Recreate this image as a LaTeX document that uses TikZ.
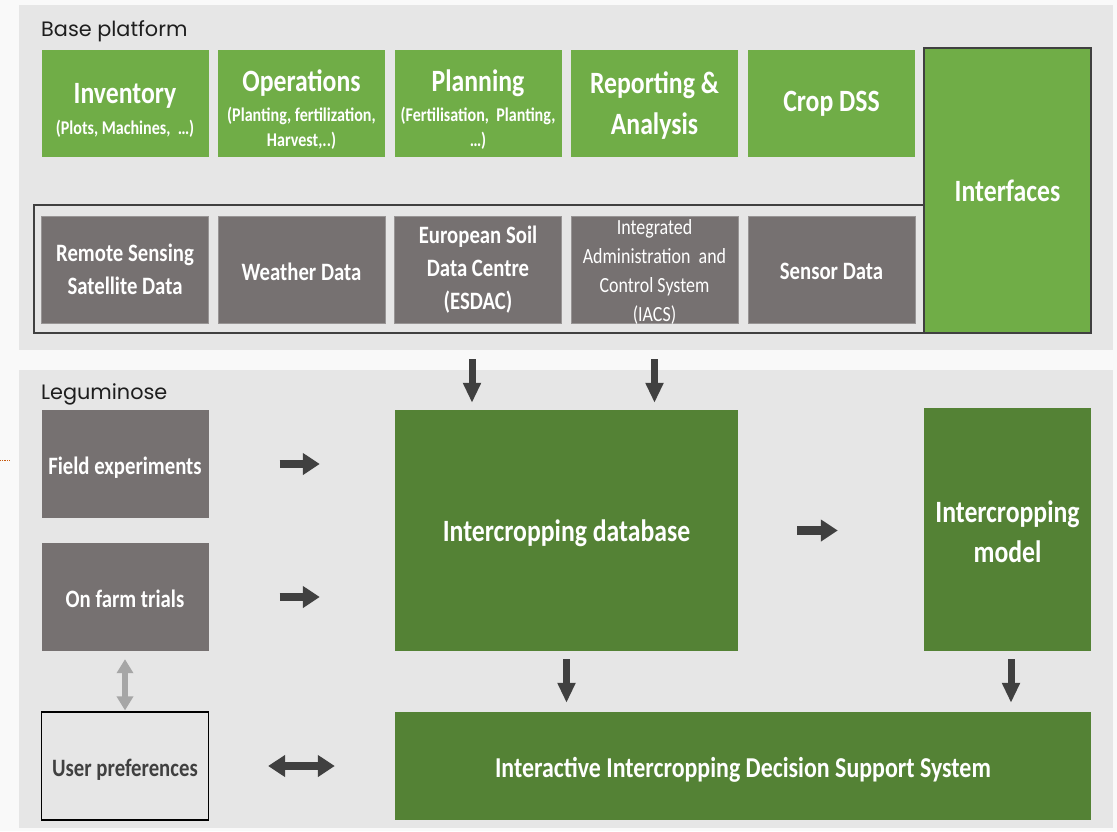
\documentclass[tikz,border=0pt]{standalone}
\usepackage{fontspec}
% narrow, tall letters: the sizes below are 1.2 times the nominal size
\setmainfont{Carlito}[FakeStretch=0.83]
\newfontfamily\gothicfont{Poppins}
\usetikzlibrary{arrows.meta,calc}

\definecolor{pagebg}{HTML}{F9F9F9}
\definecolor{panelbg}{HTML}{E6E6E6}
\definecolor{leafgreen}{HTML}{70AD47}
\definecolor{deepgreen}{HTML}{548235}
\definecolor{stone}{HTML}{767171}
\definecolor{ink}{HTML}{404040}
\definecolor{mist}{HTML}{A6A6A6}
\definecolor{rust}{HTML}{C55A11}
\definecolor{heading}{HTML}{1E1E1E}

% big title line inside a module box, with a tall strut that pushes the text down a little
\newcommand\modtitle[1]{{\fontsize{31}{34}\selectfont\rule{0pt}{33pt}#1}}
% lower one line of text a little without changing its box
\newcommand\lowered[2][4pt]{\raisebox{-#1}[\height][\depth]{#2}}

\tikzset{
  panel/.style={fill=panelbg, inner sep=0pt},
  paneltitle/.style={anchor=west, inner sep=0pt, text=heading,
    font=\gothicfont\fontsize{20.8}{24}\selectfont},
  box/.style={minimum width=167pt, minimum height=107pt, inner sep=0pt,
    align=center, text=white},
  modbox/.style={box, fill=leafgreen, font=\bfseries\fontsize{19.4}{25}\selectfont},
  bigmod/.style={box, fill=leafgreen, font=\bfseries\fontsize{31}{41}\selectfont},
  databox/.style={box, fill=stone, draw=stone!75!white, line width=0.6pt,
    font=\bfseries\fontsize{25}{33}\selectfont},
  sourcebox/.style={box, minimum height=108pt, fill=stone,
    font=\bfseries\fontsize{25}{33}\selectfont},
  corebox/.style={box, fill=deepgreen, font=\bfseries\fontsize{31}{40}\selectfont},
  % horizontal and vertical block arrows
  rightarrow/.style={draw=ink, line width=8.5pt, -{Triangle[length=17pt,width=21pt]}},
  downarrow/.style={draw=ink, line width=7pt, -{Triangle[length=20pt,width=17pt]}},
  twoway/.style={draw=ink, line width=8.5pt,
    {Triangle[length=17pt,width=21pt]}-{Triangle[length=17pt,width=21pt]}},
  softarrow/.style={draw=mist, line width=6pt,
    {Triangle[length=14pt,width=16pt]}-{Triangle[length=14pt,width=16pt]}},
}

\begin{document}
\begin{tikzpicture}[x=1pt,y=-1pt]
  % page
  \fill[pagebg] (0,0) rectangle (1117,831);
  \path[use as bounding box] (0,0) rectangle (1117,831);

  % the two panels
  \node[panel, minimum width=1094pt, minimum height=345pt] (baseplatform) at (566,177.5) {};
  \node[panel, minimum width=1094pt, minimum height=458pt] (leguminose) at (566,599) {};
  \node[paneltitle] (basetitle) at (41,31) {Base platform};
  \node[paneltitle] (legtitle) at (41,394) {Leguminose};

  % small dotted mark at the left margin
  \coordinate (markA) at (0,460);
  \coordinate (markB) at (10,460);
  \draw[rust, densely dotted, line width=0.8pt] (markA) -- (markB);

  % base platform modules
  \node[modbox] (inv)  at (125,103.5)  {\modtitle{Inventory}\\[6pt](Plots, Machines,\ \ …)};
  \node[modbox] (ops)  at (301.5,103.5) {\modtitle{Operations}\\[5pt](Planting, fertilization,\\Harvest,..)};
  \node[modbox] (plan) at (478,103.5)  {\modtitle{Planning}\\[5pt](Fertilisation,\ \ Planting,\\…)};
  \node[bigmod] (rep)  at (654.5,103.5) {\lowered[2pt]{Reporting \&}\\\lowered[2pt]{Analysis}};
  \node[bigmod] (dss)  at (831.5,103.5) {Crop DSS};

  % frame round the data sources, and the interfaces column
  \node[draw=ink, line width=1.2pt, minimum width=890pt, minimum height=128pt,
        inner sep=0pt] (datagroup) at (479,269) {};
  \node[bigmod, draw=ink, line width=1.2pt, minimum height=285pt] (ifc)
        at (1007.5,190.5) {Interfaces};

  % data sources
  \node[databox] (rs)    at (125,269.5)   {Remote Sensing\\Satellite Data};
  \node[databox] (wx)    at (301.5,269.5) {\lowered[2pt]{Weather Data}};
  \node[databox] (esdac) at (478,269.5)   {European Soil\\Data Centre\\(ESDAC)};
  \node[databox, font=\fontsize{21.6}{29}\selectfont] (iacs) at (654.5,269.5)
        {\lowered[2pt]{Integrated}\\\lowered[2pt]{Administration\ \ and}\\
         \lowered[2pt]{Control System}\\\lowered[2pt]{(IACS)}};
  \node[databox] (sens)  at (831.5,269.5) {\lowered[2pt]{Sensor Data}};

  % leguminose part
  \node[sourcebox] (fe)    at (125,464) {\lowered{Field experiments}};
  \node[sourcebox] (ofarm) at (125,597) {\lowered[2pt]{On farm trials}};
  \node[box, minimum height=108pt, draw=black, line width=1.2pt, text=ink,
        font=\bfseries\fontsize{25}{33}\selectfont] (up) at (125,766)
        {\lowered{User preferences}};
  \node[corebox, minimum width=343pt, minimum height=241pt] (db) at (566.5,530.5)
        {\lowered[3pt]{Intercropping database}};
  \node[corebox, minimum height=243pt] (model) at (1007.5,529.5)
        {\lowered[2pt]{Intercropping}\\\lowered[2pt]{model}};
  \node[corebox, minimum width=696pt, minimum height=108pt,
        font=\bfseries\fontsize{28.8}{34}\selectfont] (idss) at (743,766)
        {\lowered{Interactive Intercropping Decision Support System}};

  % connectors
  \draw[downarrow, shorten <=36pt, shorten >=7pt]
       ($(esdac.south)+(-6,0)$) -- ($(esdac.south |- db.north)+(-6,0)$);
  \draw[downarrow, shorten <=36pt, shorten >=7pt]
       (iacs.south) -- (iacs.south |- db.north);
  \draw[rightarrow, shorten <=71pt, shorten >=75pt] (fe.east) -- (fe.east -| db.west);
  \draw[rightarrow, shorten <=71pt, shorten >=75pt] (ofarm.east) -- (ofarm.east -| db.west);
  \draw[rightarrow, shorten <=59pt, shorten >=86pt] (db.east) -- (db.east -| model.west);
  \draw[downarrow, shorten <=8pt, shorten >=9pt] (db.south) -- (db.south |- idss.north);
  \draw[downarrow, shorten <=8pt, shorten >=9pt]
       ($(model.south)+(3.5,0)$) -- ($(model.south |- idss.north)+(3.5,0)$);
  \draw[twoway, shorten <=59pt, shorten >=60pt] (up.east) -- (up.east -| idss.west);
  \draw[softarrow, shorten <=8pt, shorten >=1pt] (ofarm.south) -- (up.north);
\end{tikzpicture}
\end{document}
